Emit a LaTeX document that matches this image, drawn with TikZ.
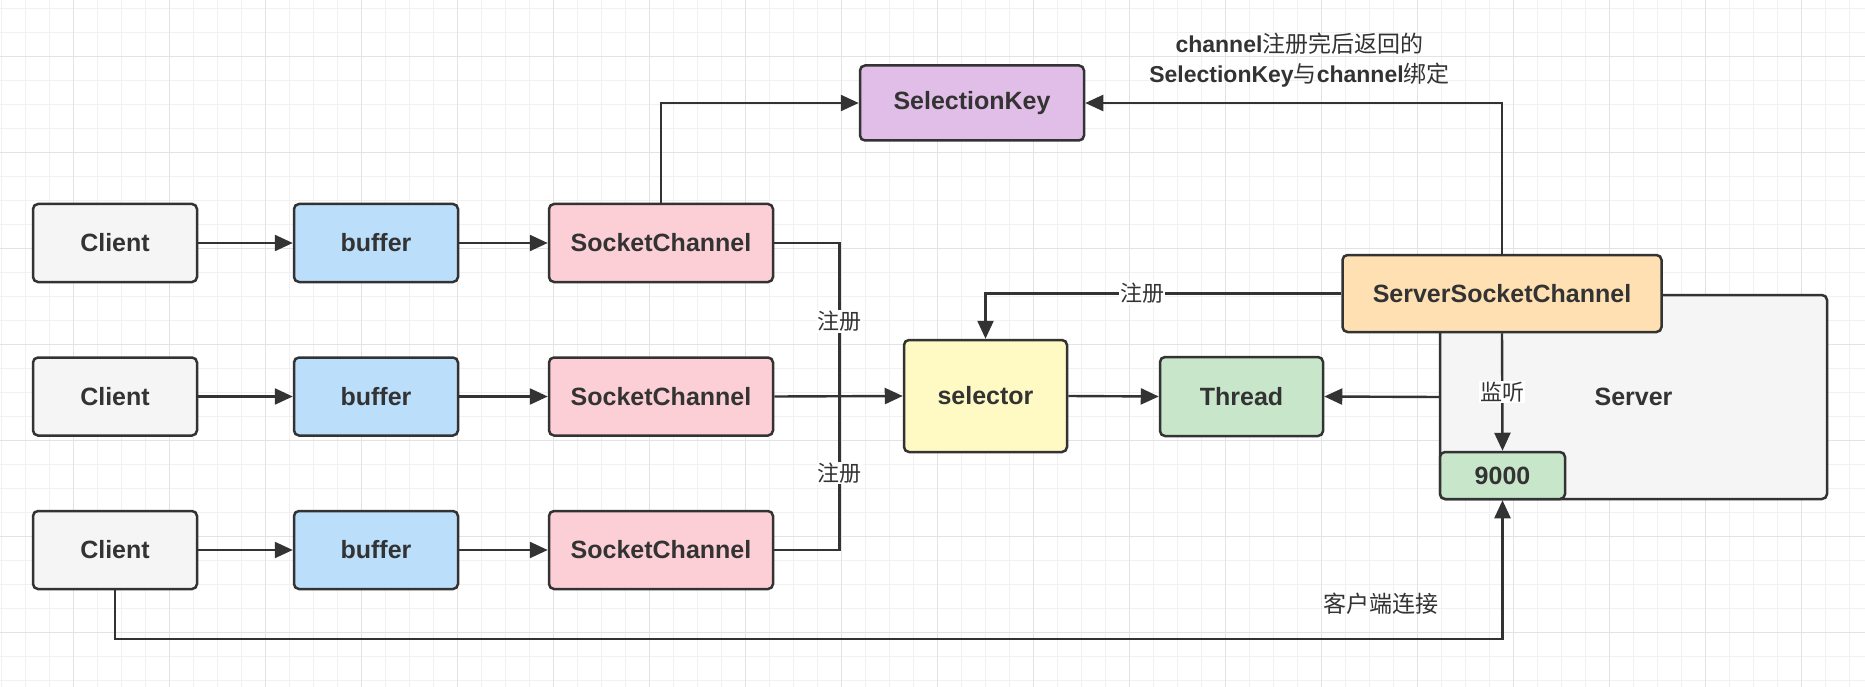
\documentclass[tikz,border=0pt]{standalone}
\usepackage{fontspec}
\setmainfont{Liberation Sans}
\newfontfamily\cjk{Noto Sans CJK SC}
\usetikzlibrary{arrows.meta}

\definecolor{ink}{HTML}{333333}
\definecolor{gridminor}{HTML}{F1F1F1}
\definecolor{gridmajor}{HTML}{E3E3E3}
\definecolor{clientfill}{HTML}{F5F5F5}
\definecolor{bufferfill}{HTML}{BBDEFB}
\definecolor{chanfill}{HTML}{FCCFD6}
\definecolor{keyfill}{HTML}{E1BEE7}
\definecolor{selfill}{HTML}{FFF9C4}
\definecolor{greenfill}{HTML}{C8E6C9}
\definecolor{sscfill}{HTML}{FFE0B2}

\tikzset{
  box/.style={draw=ink, line width=2.5pt, rounded corners=5pt, text=ink,
    font=\fontsize{25}{30}\selectfont\bfseries, minimum height=78pt, inner sep=0pt},
  clientbox/.style={box, fill=clientfill, minimum width=164pt},
  bufbox/.style={box, fill=bufferfill, minimum width=164pt},
  chanbox/.style={box, fill=chanfill, minimum width=224pt},
  line/.style={draw=ink, line width=2.4pt},
  arr/.style={line, -{Triangle[length=18pt,width=16pt]}},
  lbl/.style={fill=white, text=ink, inner sep=1pt, font=\fontsize{22}{26}\selectfont\cjk},
}

\begin{document}
\begin{tikzpicture}[x=1pt, y=-1pt]
\useasboundingbox (0,0) rectangle (1865,687);
\fill[white] (0,0) rectangle (1865,687);

% background grid
\foreach \k in {0,...,77}
  \draw[gridminor, line width=1.2pt] (1.3+24*\k,0) -- (1.3+24*\k,687);
\foreach \k in {0,...,28}
  \draw[gridminor, line width=1.2pt] (0,8.7+24*\k) -- (1865,8.7+24*\k);
\foreach \k in {0,...,18}
  \draw[gridmajor, line width=1.2pt] (73.3+96*\k,0) -- (73.3+96*\k,687);
\foreach \k in {0,...,6}
  \draw[gridmajor, line width=1.2pt] (0,56.7+96*\k) -- (1865,56.7+96*\k);

% server side
\node[box, fill=clientfill, minimum width=387pt, minimum height=204pt] (server) at (1633.5,397) {Server};
\node[box, fill=sscfill, minimum width=319pt, minimum height=77pt] (ssc) at (1502,293.5) {ServerSocketChannel};
\node[box, fill=greenfill, minimum width=125pt, minimum height=47pt] (port) at (1502.5,475.5) {9000};

% client rows
\foreach \i/\y in {1/243,2/396.5,3/550} {
  \node[clientbox] (client\i) at (115,\y) {Client};
  \node[bufbox] (buf\i) at (376,\y) {buffer};
  \node[chanbox] (sc\i) at (661,\y) {SocketChannel};
  \draw[arr] (client\i) -- (buf\i);
  \draw[arr] (buf\i) -- (sc\i);
}

\node[box, fill=keyfill, minimum width=224pt, minimum height=75pt] (skey) at (972,103) {SelectionKey};
\node[box, fill=selfill, minimum width=163pt, minimum height=112pt] (selector) at (985.5,396) {selector};
\node[box, fill=greenfill, minimum width=163pt, minimum height=79pt] (thread) at (1241.5,396.5) {Thread};

\node[align=center, text=ink, font=\fontsize{23}{30}\selectfont] (note) at (1299.5,60)
  {\textbf{channel}{\cjk 注册完后返回的}\\\textbf{SelectionKey}{\cjk 与}\textbf{channel}{\cjk 绑定}};

% connectors
\coordinate (bus) at (839.5,396.5);
\draw[line] (sc1.east) -| (bus) node[lbl, pos=0.756] (reg1) {注册};
\draw[line] (bus) |- (sc3.east) node[lbl, pos=0.25] (reg3) {注册};
\draw[arr] (sc2.east) -- (selector.west);
\draw[arr] (selector.east) -- (thread.west);
\draw[arr] (sc1.north) |- (skey.west);
\draw[arr] (ssc.north) |- (skey.east);
\draw[arr] (ssc.west) -| (selector.north) node[lbl, pos=0.28] (reg2) {注册};
\draw[arr] (server.west) -- (thread.east);
\draw[arr] (ssc.south) -- (port.north) node[lbl, midway] (listen) {监听};
\draw[arr] (client3.south) -- ++(0,49) -| (port.south);
\node[text=ink, font=\fontsize{23}{28}\selectfont\cjk] (connect) at (1380.5,604) {客户端连接};
\end{tikzpicture}
\end{document}
